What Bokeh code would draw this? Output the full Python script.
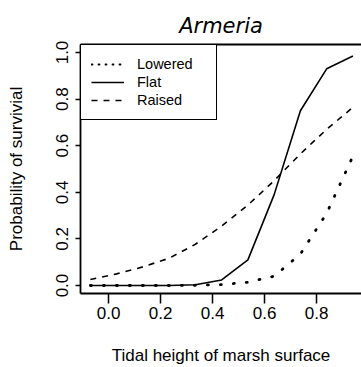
from bokeh.plotting import figure
from bokeh.models import (LinearAxis, FixedTicker, NumeralTickFormatter, Range1d,
                          Legend, LegendItem, ColumnDataSource, Title)
from bokeh.embed import file_html
from bokeh.resources import INLINE

# ---- data ----
heights = [-0.07, 0.031, 0.132, 0.233, 0.334, 0.435, 0.536, 0.637, 0.738, 0.839, 0.94]
lowered = [0.0, 0.0, 0.0, 0.0, 0.001, 0.004, 0.014, 0.04, 0.135, 0.31, 0.555]
flat = [0.0, 0.0, 0.0, 0.0, 0.003, 0.024, 0.11, 0.39, 0.75, 0.93, 0.985]
raised = [0.026, 0.05, 0.08, 0.117, 0.177, 0.255, 0.345, 0.45, 0.565, 0.67, 0.765]
x_ticks = [0.0, 0.2, 0.4, 0.6, 0.8]
y_ticks = [0.0, 0.2, 0.4, 0.6, 0.8, 1.0]
series_names = ["Lowered", "Flat", "Raised"]

FONT = "Liberation Sans"

p = figure(width=361, height=367, output_backend="svg", toolbar_location=None,
           x_range=Range1d(-0.108, 0.973), y_range=Range1d(-0.0343, 1.0343),
           min_border_left=80, min_border_right=0, min_border_top=44, min_border_bottom=74,
           x_axis_location=None, y_axis_location=None)
p.grid.visible = False
p.outline_line_color = None
p.background_fill_color = "white"
p.border_fill_color = "white"

src = ColumnDataSource(dict(x=heights, lo=lowered, fl=flat, ra=raised))
p.line("x", "lo", source=src, line_color="black", line_width=2.8,
       line_dash="1 12", line_cap="round")
r_flat = p.line("x", "fl", source=src, line_color="black", line_width=1.6)
r_raised = p.line("x", "ra", source=src, line_color="black", line_width=1.6,
                  line_dash="6 6")
# legend-only key for the dotted series (no visible data)
nan_src = ColumnDataSource(dict(x=[float("nan")], y=[float("nan")]))
r_lo_leg = p.line("x", "y", source=nan_src, line_color="black", line_width=1.8,
                  line_dash="1 6", line_cap="round")

# axes
xaxis = LinearAxis(ticker=FixedTicker(ticks=x_ticks),
                   formatter=NumeralTickFormatter(format="0.0"),
                   axis_label="Tidal height of marsh surface")
yaxis = LinearAxis(ticker=FixedTicker(ticks=y_ticks),
                   formatter=NumeralTickFormatter(format="0.0"),
                   axis_label="Probability of survivial")
for ax, tick_out, std, lab_std in ((xaxis, 10, 3, 24), (yaxis, 5, 7, 28)):
    ax.major_tick_out = tick_out
    ax.major_tick_in = 0
    ax.minor_tick_out = 0
    ax.minor_tick_in = 0
    ax.major_tick_line_width = 1.5
    ax.major_tick_line_color = "black"
    ax.axis_line_width = 1.8
    ax.axis_line_color = "black"
    ax.major_label_standoff = std
    ax.axis_label_standoff = lab_std
    ax.major_label_text_font = FONT
    ax.major_label_text_font_size = "17px"
    ax.major_label_text_color = "black"
    ax.axis_label_text_font = FONT
    ax.axis_label_text_font_size = "17px"
    ax.axis_label_text_font_style = "normal"
    ax.axis_label_text_color = "black"
yaxis.major_label_orientation = "vertical"
p.add_layout(xaxis, "below")
p.add_layout(yaxis, "left")

top = LinearAxis(ticker=FixedTicker(ticks=[]), major_tick_out=0, major_tick_in=0,
                 minor_tick_out=0, minor_tick_in=0, axis_line_width=1.8,
                 axis_line_color="black", major_label_text_font_size="0px")
p.add_layout(top, "above")

p.title = Title(text="Armeria", text_font="DejaVu Sans", text_font_style="italic",
                text_font_size="21px", align="center", text_color="black",
                standoff=13)

legend = Legend(items=[LegendItem(label=series_names[0], renderers=[r_lo_leg]),
                       LegendItem(label=series_names[1], renderers=[r_flat]),
                       LegendItem(label=series_names[2], renderers=[r_raised])],
                location="top_left", margin=0, padding=10, spacing=0,
                glyph_width=33, glyph_height=18, label_height=18, label_standoff=13,
                label_width=69,
                label_text_font=FONT, label_text_font_size="14.5px",
                label_text_color="black",
                border_line_color="black", border_line_width=1.5, border_line_alpha=1.0,
                background_fill_color="white", background_fill_alpha=1.0)
p.add_layout(legend)

open("out.html", "w").write(file_html(p, INLINE))
